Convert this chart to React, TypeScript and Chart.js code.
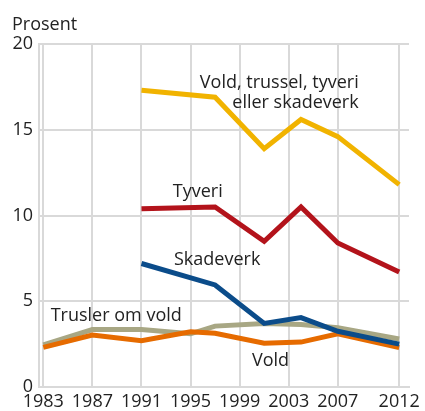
import React, { useEffect, useRef } from "react";
import { Chart, registerables } from "chart.js";

Chart.register(...registerables);

// Survey years
const yearsAll = [1983, 1987, 1991, 1995, 1997, 2001, 2004, 2007, 2012];
const yearsLate = [1991, 1997, 2001, 2004, 2007, 2012];

// Series values (percent)
const vold = [2.31, 3.03, 2.7, 3.22, 3.13, 2.55, 2.62, 3.1, 2.3];
const truslerOmVold = [2.45, 3.35, 3.35, 3.1, 3.55, 3.7, 3.65, 3.45, 2.8];
const skadeverk = [7.2, 5.95, 3.71, 4.05, 3.25, 2.5];
const tyveri = [10.4, 10.5, 8.5, 10.5, 8.4, 6.7];
const totalt = [17.3, 16.9, 13.9, 15.6, 14.6, 11.8];

// Axis tick labels
const xTicks = [1983, 1987, 1991, 1995, 1999, 2003, 2007, 2012];
const yTicks = [0, 5, 10, 15, 20];

// Line labels: text, anchor year, anchor value (baseline), alignment
const lineLabels = [
  { text: "Vold, trussel, tyveri", x: 2008.7, y: 17.42, align: "right" },
  { text: "eller skadeverk", x: 2008.7, y: 16.27, align: "right" },
  { text: "Tyveri", x: 1993.55, y: 11.1, align: "left" },
  { text: "Skadeverk", x: 1993.65, y: 7.11, align: "left" },
  { text: "Trusler om vold", x: 1983.6, y: 3.87, align: "left" },
  { text: "Vold", x: 2000.0, y: 1.22, align: "left" },
];

const FONT = '"Open Sans", "Noto Sans", sans-serif';
const GRID = "#d9d9d9";
const TEXT = "#222222";

function pts(xs: number[], ys: number[]) {
  return xs.map((x, i) => ({ x, y: ys[i] }));
}

const labelsPlugin = {
  id: "lineLabels",
  afterDraw(chart: any) {
    const { ctx, scales } = chart;
    ctx.save();
    ctx.font = `18px ${FONT}`;
    ctx.fillStyle = TEXT;
    ctx.textBaseline = "alphabetic";
    ctx.textAlign = "left";
    ctx.fillText("Prosent", 12, 30);
    for (const l of lineLabels) {
      ctx.textAlign = l.align as CanvasTextAlign;
      ctx.fillText(
        l.text,
        scales.x.getPixelForValue(l.x),
        scales.y.getPixelForValue(l.y)
      );
    }
    ctx.restore();
  },
};

export default function App() {
  const ref = useRef<HTMLCanvasElement | null>(null);
  useEffect(() => {
    if (!ref.current) return;
    const line = (label: string, xs: number[], ys: number[], color: string, order: number) => ({
      label,
      data: pts(xs, ys),
      borderColor: color,
      backgroundColor: color,
      borderWidth: 5,
      pointRadius: 0,
      pointHoverRadius: 0,
      tension: 0,
      borderJoinStyle: "miter" as const,
      order,
    });
    const chart = new Chart(ref.current, {
      type: "line",
      data: {
        datasets: [
          line("Vold, trussel, tyveri eller skadeverk", yearsLate, totalt, "#f1b300", 1),
          line("Tyveri", yearsLate, tyveri, "#b3131b", 2),
          line("Skadeverk", yearsLate, skadeverk, "#0b4c8a", 3),
          line("Vold", yearsAll, vold, "#e66b00", 4),
          line("Trusler om vold", yearsAll, truslerOmVold, "#a8a784", 5),
        ],
      },
      options: {
        animation: false,
        responsive: false,
        events: [],
        layout: { padding: { left: 0, top: 44, right: 16, bottom: 0 } },
        plugins: {
          legend: { display: false },
          tooltip: { enabled: false },
          title: { display: false },
        },
        scales: {
          x: {
            type: "linear",
            min: 1982.65,
            max: 2012.8,
            afterBuildTicks: (s: any) => {
              s.ticks = xTicks.map((v) => ({ value: v }));
            },
            afterFit: (s: any) => {
              s.height = 24;
            },
            ticks: {
              autoSkip: false,
              maxRotation: 0,
              minRotation: 0,
              padding: 4,
              color: TEXT,
              font: { family: FONT, size: 18 },
              callback: (v: any) => String(v),
            },
            grid: { color: GRID, lineWidth: 2, drawTicks: false },
            border: { display: true, color: GRID, width: 2 },
          },
          y: {
            type: "linear",
            min: 0,
            max: 20,
            afterBuildTicks: (s: any) => {
              s.ticks = yTicks.map((v) => ({ value: v }));
            },
            afterFit: (s: any) => {
              s.width = 39;
            },
            ticks: {
              padding: 6,
              color: TEXT,
              font: { family: FONT, size: 18 },
              callback: (v: any) => String(v),
            },
            grid: { color: GRID, lineWidth: 2, drawTicks: false },
            border: { display: true, color: GRID, width: 2 },
          },
        },
      },
      plugins: [labelsPlugin],
    });
    return () => chart.destroy();
  }, []);
  return (
    <div style={{ position: "absolute", left: 0, top: 0, width: 425, height: 411, background: "#fff" }}>
      <canvas ref={ref} width={425} height={411} style={{ display: "block" }} />
    </div>
  );
}
